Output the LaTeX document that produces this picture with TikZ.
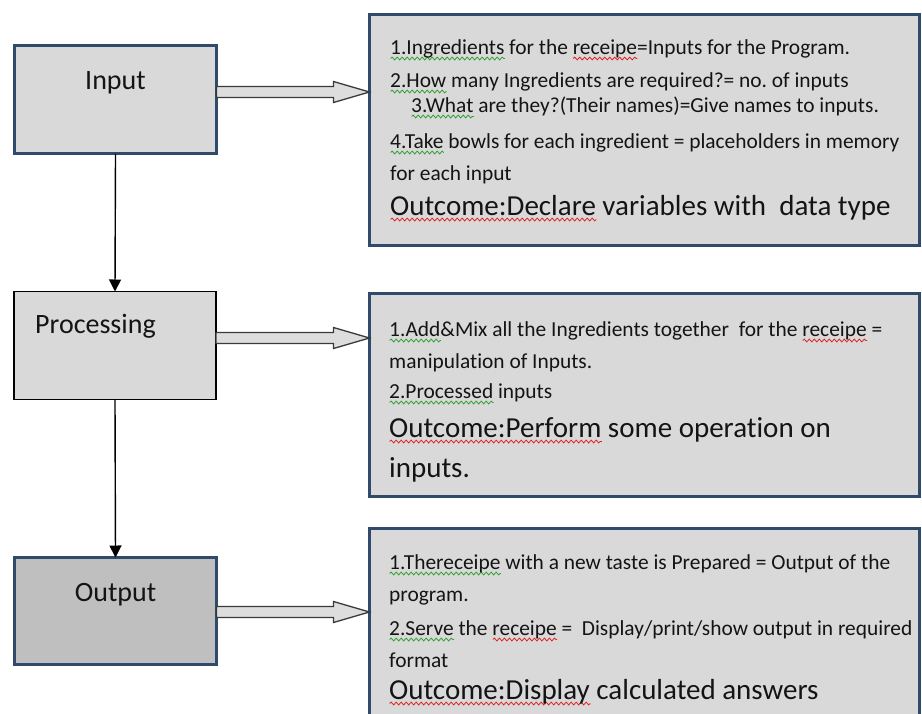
\documentclass[tikz,border=0pt]{standalone}
\usepackage{fontspec}
\setmainfont[Ligatures=NoCommon]{Carlito}
\frenchspacing
\usetikzlibrary{arrows.meta,calc,decorations.pathmorphing}
\definecolor{bfill}{HTML}{D9D9D9}
\definecolor{ofill}{HTML}{BFBFBF}
\definecolor{bblue}{HTML}{2F4A6B}
\definecolor{txt}{HTML}{141414}
\definecolor{sqg}{HTML}{2EA02E}
\definecolor{sqr}{HTML}{E02020}
\definecolor{arrfill}{HTML}{DDDDDD}
\definecolor{arrline}{HTML}{3A3A3A}
\newsavebox\sqbox
\newlength\sqlen
\newcommand\sq[2]{\leavevmode\sbox\sqbox{#2}\setlength\sqlen{\wd\sqbox}\rlap{\raisebox{-4.5pt}[0pt][0pt]{\tikz[baseline=0pt]\draw[#1,line width=0.8pt,decorate,decoration={snake,amplitude=1.4pt,segment length=5pt}] (0pt,0pt) -- (\sqlen,0pt);}}\usebox\sqbox}
\newcommand\blockarr[2]{\draw[barrow] let \p1=(#1), \p2=(#2) in
  (\x1,\y1+5.5pt) -- (\x2-36pt,\y1+5.5pt) -- (\x2-36pt,\y1+10.5pt) -- (\x2,\y1) --
  (\x2-36pt,\y1-10.5pt) -- (\x2-36pt,\y1-5.5pt) -- (\x1,\y1-5.5pt) -- cycle;}
\tikzset{
  leftbox/.style={fill=bfill, minimum width=202pt, minimum height=108pt, anchor=north west, outer sep=0pt, inner sep=0pt},
  bluebox/.style={leftbox, draw=bblue, line width=3pt},
  blackbox/.style={leftbox, draw=black, line width=1.3pt},
  rightbox/.style={draw=bblue, line width=3pt, fill=bfill, minimum width=550pt, anchor=north west, outer sep=0pt, inner sep=0pt},
  lbl/.style={font=\fontsize{28}{30}\selectfont, text=txt, inner sep=0pt, anchor=base},
  small/.style={font=\fontsize{21.4}{24}\selectfont, text=txt, inner sep=0pt, anchor=base west},
  big/.style={font=\fontsize{29}{31}\selectfont, text=txt, inner sep=0pt, anchor=base west},
  barrow/.style={fill=arrfill, draw=arrline, line width=1.3pt, line join=miter},
  vline/.style={draw=black, line width=1.4pt, -{Triangle[width=12pt,length=12pt]}}
}
\begin{document}
\begin{tikzpicture}[x=1pt,y=-1pt]
\useasboundingbox[fill=white] (0,0) rectangle (922,713);
% left boxes
\node[bluebox] (in) at (14.5,45.5) {};
\node[blackbox] (proc) at (14,291.5) {};
\node[bluebox, fill=ofill, minimum height=107pt] (out) at (14.5,557.5) {};
\node[lbl] (inl) at (115.5,89) {Input};
\node[lbl, anchor=base west] (procl) at (35,333) {Processing};
\node[lbl] (outl) at (115.5,601) {Output};
% right boxes
\node[rightbox, minimum height=231pt] (r1) at (369.5,14.5) {};
\node[rightbox, minimum height=203pt] (r2) at (369.5,293.5) {};
\node[rightbox, minimum height=200pt] (r3) at (369.5,528.5) {};
% box 1 text
\node[small] (t11) at (390,54) {\sq{sqg}{1.Ingredients} for the \sq{sqr}{receipe}=Inputs for the Program.};
\node[small] (t12) at (390,87) {\sq{sqg}{2.How} many Ingredients are required?= no. of inputs};
\node[small] (t13) at (411,112) {\sq{sqg}{3.What} are they?(Their names)=Give names to inputs.};
\node[small] (t14) at (390,148) {\sq{sqg}{4.Take} bowls for each ingredient = placeholders in memory};
\node[small] (t15) at (390,180) {for each input};
\node[big] (t16) at (390,215) {\sq{sqr}{Outcome:Declare} variables with\ \ data type};
% box 2 text
\node[small] (t21) at (389,336) {\sq{sqg}{1.Add}\&Mix all the Ingredients together\ \ for the \sq{sqr}{receipe} =};
\node[small] (t22) at (389,368) {manipulation of Inputs.};
\node[small] (t23) at (389,398) {\sq{sqg}{2.Processed} inputs};
\node[big] (t24) at (389,437) {\sq{sqr}{Outcome:Perform} some operation on};
\node[big] (t25) at (389,477) {inputs.};
% box 3 text
\node[small] (t31) at (389,569) {\sq{sqg}{1.Thereceipe} with a new taste is Prepared = Output of the};
\node[small] (t32) at (389,601) {program.};
\node[small] (t33) at (389,635) {\sq{sqg}{2.Serve} the \sq{sqr}{receipe} =\ \ Display/print/show output in required};
\node[small] (t34) at (389,667) {format};
\node[big] (t35) at (389,699) {\sq{sqr}{Outcome:Display} calculated answers};
% connectors
\draw[vline] (in.south) -- (proc.north);
\draw[vline] (proc.south) -- (out.north);
\coordinate (a1) at (in.east |- 0,92);
\coordinate (b1) at (r1.west |- 0,92);
\coordinate (a2) at (proc.east |- 0,338);
\coordinate (b2) at (r2.west |- 0,338);
\coordinate (a3) at (out.east |- 0,612);
\coordinate (b3) at (r3.west |- 0,612);
\blockarr{a1}{b1}
\blockarr{a2}{b2}
\blockarr{a3}{b3}
\end{tikzpicture}
\end{document}
